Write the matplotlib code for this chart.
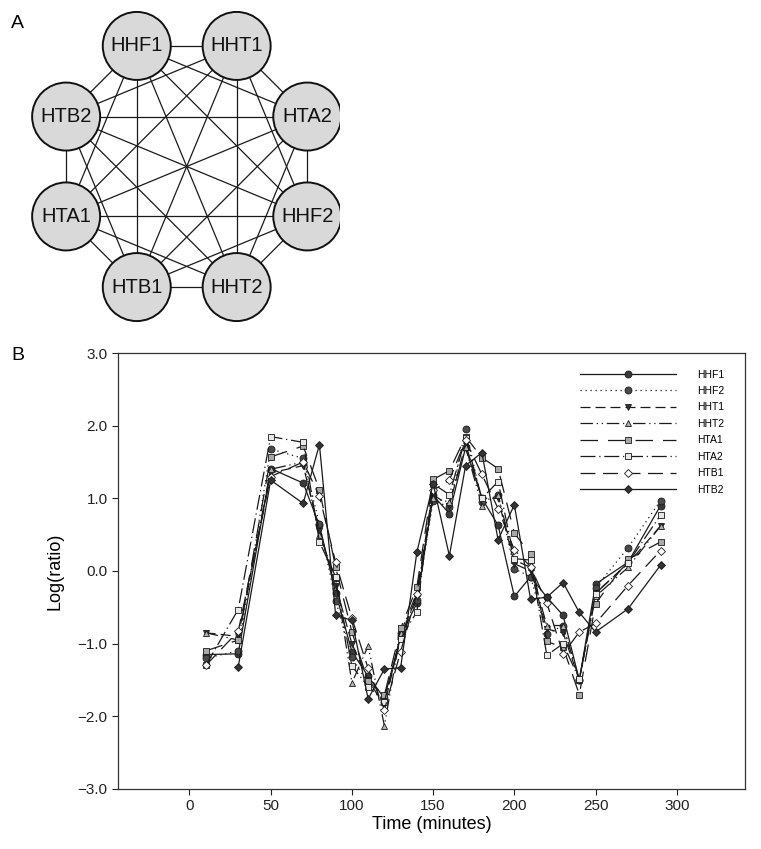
import numpy as np
import matplotlib
matplotlib.use("Agg")
import matplotlib.pyplot as plt
from matplotlib.patches import Circle
from matplotlib.ticker import FuncFormatter

plt.rcParams['font.family'] = ['Liberation Sans', 'DejaVu Sans']

# ---- data ----
genes = ['HHF1', 'HHT1', 'HTA2', 'HHF2', 'HHT2', 'HTB1', 'HTA1', 'HTB2']

times = [10, 30, 50, 70, 80, 90, 100, 110, 120, 130, 140, 150,
         160, 170, 180, 190, 200, 210, 220, 230, 240, 250, 270, 290]

hhf1 = [-1.15, -1.14, 1.41, 1.21, 0.63, -0.30, -1.11, -1.45, -1.75, -0.90, -0.44, 1.04,
        0.79, 1.70, 1.00, 0.63, -0.35, -0.08, -0.36, -0.61, -1.50, -0.18, 0.12, 0.90]
hhf2 = [-1.20, -1.10, 1.68, 1.55, 0.65, -0.41, -1.19, -1.55, -1.80, -0.85, -0.40, 0.97,
        0.88, 1.96, 0.95, 1.04, 0.03, -0.08, -0.87, -0.75, -1.50, -0.23, 0.32, 0.97]
hht1 = [-0.85, -0.90, 1.35, 1.45, 0.55, -0.20, -1.00, -1.50, -1.85, -0.90, -0.35, 1.05,
        0.90, 1.75, 1.00, 1.00, 0.10, 0.00, -0.80, -0.85, -1.50, -0.30, 0.10, 0.62]
hht2 = [-0.85, -0.95, 1.40, 1.50, 0.50, -0.10, -1.54, -1.03, -2.13, -0.85, -0.30, 1.00,
        0.95, 1.70, 0.90, 1.05, 0.15, 0.05, -0.75, -0.75, -1.50, -0.35, 0.05, 0.62]
hta1 = [-1.10, -0.95, 1.57, 1.72, 1.12, 0.05, -0.84, -1.52, -1.71, -0.79, -0.22, 1.26,
        1.38, 1.85, 1.56, 1.41, 0.52, 0.23, -0.97, -1.05, -1.70, -0.45, 0.16, 0.40]
hta2 = [-1.30, -0.53, 1.85, 1.77, 0.40, -0.08, -1.31, -1.59, -1.80, -0.93, -0.56, 1.20,
        1.05, 1.83, 1.00, 1.23, 0.17, 0.15, -1.16, -1.00, -1.49, -0.31, 0.11, 0.77]
htb1 = [-1.30, -0.83, 1.30, 1.50, 1.03, 0.12, -0.65, -1.34, -1.91, -1.11, -0.31, 1.11,
        1.25, 1.80, 1.33, 0.86, 0.29, 0.06, -0.44, -1.14, -0.84, -0.72, -0.20, 0.28]
htb2 = [np.nan, -1.32, 1.25, 0.93, 1.74, -0.61, -0.68, -1.76, -1.35, -1.33, 0.26, 1.20,
        0.21, 1.45, 1.63, 0.43, 0.91, -0.39, -0.36, -0.16, -0.57, -0.84, -0.52, 0.08]

series = [('HHF1', hhf1), ('HHF2', hhf2), ('HHT1', hht1), ('HHT2', hht2),
          ('HTA1', hta1), ('HTA2', hta2), ('HTB1', htb1), ('HTB2', htb2)]

styles = {
    'HHF1': dict(ls='-', marker='o', mfc='#3a3a3a', ms=5),
    'HHF2': dict(ls=(0, (1, 3)), marker='o', mfc='#4a4a4a', ms=5),
    'HHT1': dict(ls=(0, (8, 4)), marker='v', mfc='#333333', ms=5),
    'HHT2': dict(ls=(0, (10, 3, 1, 3, 1, 3)), marker='^', mfc='#b0b0b0', ms=5),
    'HTA1': dict(ls=(0, (14, 8)), marker='s', mfc='#a8a8a8', ms=4.6),
    'HTA2': dict(ls=(0, (12, 3, 1, 3)), marker='s', mfc='#e8e8e8', ms=4.6),
    'HTB1': dict(ls=(0, (12, 6)), marker='D', mfc='white', ms=4.2),
    'HTB2': dict(ls='-', marker='D', mfc='#333333', ms=4.2),
}

W, H = 761, 849
fig = plt.figure(figsize=(W / 100, H / 100), dpi=100)

# ---- panel A: network ----
axn = fig.add_axes([0, 1 - 340 / H, 340 / W, 340 / H])
axn.set_xlim(0, 340)
axn.set_ylim(340, 0)
axn.axis('off')

cx, cy, r, node_r = 186.7, 166.5, 130.5, 34
angles = np.deg2rad(112.5 - 45 * np.arange(len(genes)))
nx = cx + r * np.cos(angles)
ny = cy - r * np.sin(angles)
for i in range(len(genes)):
    for j in range(i + 1, len(genes)):
        axn.plot([nx[i], nx[j]], [ny[i], ny[j]], color='#1a1a1a', lw=0.9, zorder=1)
for i, g in enumerate(genes):
    axn.add_patch(Circle((nx[i], ny[i]), node_r, facecolor='#d9d9d9',
                         edgecolor='#111111', lw=1.4, zorder=2))
    axn.text(nx[i], ny[i], g, ha='center', va='center', fontsize=14.5,
             color='#111111', zorder=3)

fig.text(17 / W, 1 - 23 / H, 'A', fontsize=14, ha='center', va='center')
fig.text(18 / W, 1 - 355 / H, 'B', fontsize=14, ha='center', va='center')

# ---- panel B: time series ----
left, right, top, bottom = 118, 745, 353, 789
ax = fig.add_axes([left / W, 1 - bottom / H, (right - left) / W, (bottom - top) / H])

for name, vals in series:
    st = styles[name]
    ax.plot(times, vals, linestyle=st['ls'], color='#1a1a1a', lw=0.9,
            marker=st['marker'], markersize=st['ms'], markerfacecolor=st['mfc'],
            markeredgecolor='#1a1a1a', markeredgewidth=0.6, label=name)

ax.set_xlim(-44, 342)
ax.set_ylim(-3, 3)
ax.set_xticks(np.arange(0, 301, 50))
ax.set_yticks(np.arange(-3, 3.1, 1))
ax.yaxis.set_major_formatter(FuncFormatter(lambda v, p: f"{v:.1f}".replace('-', '\u2212')))
ax.tick_params(direction='out', length=4, width=0.8, labelsize=11, colors='#222222')
for s in ax.spines.values():
    s.set_color('#333333')
    s.set_linewidth(0.9)
ax.set_xlabel('Time (minutes)', fontsize=13, labelpad=2)
ax.set_ylabel('Log(ratio)', fontsize=13, labelpad=10)

leg = ax.legend(loc='upper left', bbox_to_anchor=(0.737, 0.962), frameon=False,
                fontsize=7.5, handlelength=9.2, handletextpad=2.0,
                labelspacing=0.62, borderpad=0, borderaxespad=0)

fig.savefig('out.png', dpi=100)
